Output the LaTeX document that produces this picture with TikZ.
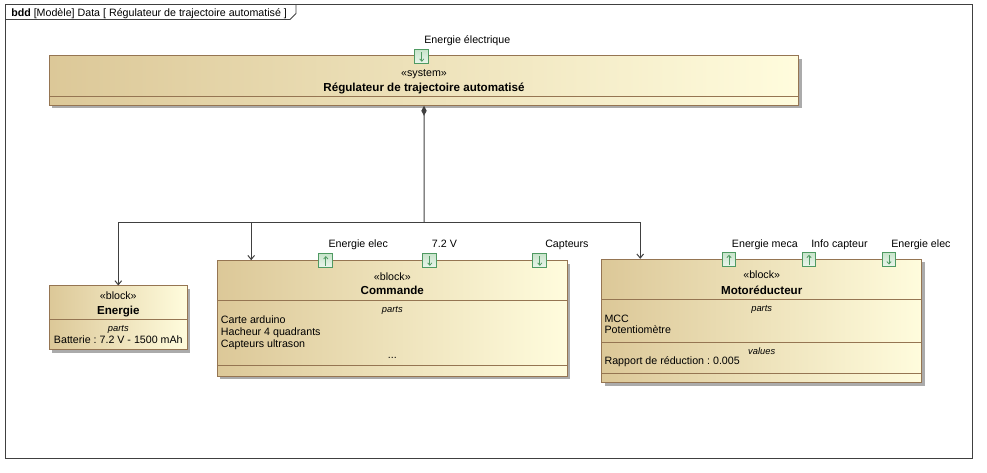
\documentclass[tikz,border=0pt]{standalone}
\usepackage{fontspec}
\setmainfont{Liberation Sans}
\usepackage{tikz}
\usetikzlibrary{%
  arrows.meta,%
  shadows,%
  fit,% block outlines
  calc,%
  positioning%
}
\frenchspacing

\definecolor{blockleft}{HTML}{DCC898}
\definecolor{blockright}{HTML}{FFFCDD}
\definecolor{blockborder}{HTML}{957552}
\definecolor{shadowgray}{HTML}{ABABAB}
\definecolor{lineclr}{HTML}{404040}
\definecolor{portborder}{HTML}{4F9A62}
\definecolor{portfill}{HTML}{C8E4CB}

\tikzset{
  block/.style={draw=blockborder, line width=0.75pt, left color=blockleft, right color=blockright,
    inner sep=0pt, drop shadow={shadow xshift=2.25pt, shadow yshift=-2.25pt, fill=shadowgray, opacity=1}},
  compart/.style={draw=blockborder, line width=0.75pt},
  port/.style={draw=portborder, line width=0.75pt, inner sep=0pt, minimum size=10.4pt,
    top color=portfill, bottom color=portfill!35},
  portarrow/.style={draw=portborder, line width=0.6pt, -{Straight Barb[length=1.8pt,width=3.2pt]}},
  assoc/.style={draw=lineclr, line width=0.75pt, -{Straight Barb[length=3pt,width=5pt]}},
  compo/.style={draw=lineclr, line width=0.75pt, {Diamond[length=7.5pt,width=4pt]}-},
  txt/.style={inner sep=0pt, text height=5.8pt, text depth=0pt},
  stereo/.style={txt},
  bname/.style={txt, font=\fontsize{8.7}{10}\selectfont\bfseries},
  comptitle/.style={txt, text height=5pt, font=\fontsize{7}{8}\selectfont\itshape},
  item/.style={txt, anchor=west},
  portlabel/.style={txt, anchor=west}
}

\begin{document}
\begin{tikzpicture}
  [x=0.75pt, y=-0.75pt, font=\fontsize{8}{9.6}\selectfont, text=black]

\useasboundingbox (0,0) rectangle (987,473);

% frame
\draw[draw=lineclr, line width=0.75pt] (5,5) rectangle (972.3,458.3);
\draw[draw=lineclr, line width=0.6pt] (5,19.5) -- (290,19.5) -- (296,13.5) -- (296,5);
\node[item] (title) at (11,12.3) {\textbf{bdd} [Modèle] Data [ Régulateur de trajectoire automatisé ]};

% system
\node[block, fit={(49.3,56) (798.7,105.3)}] (sys) {};
\draw[compart] (sys.west |- 0,96.3) -- (sys.east |- 0,96.3);
\node[stereo] (sysst) at (424,72.3) {«system»};
\node[bname] (sysnm) at (424,87.7) {Régulateur de trajectoire automatisé};
\node[port] (p0) at (421.8,56.8) {};
\draw[portarrow] ([yshift=-2pt]p0.north) -- ([yshift=1.8pt]p0.south);
\node[portlabel] (l0) at (424,40) {Energie électrique};

% Energie
\node[block, fit={(49.3,286) (187.3,350)}] (en) {};
\draw[compart] (en.west |- 0,319.3) -- (en.east |- 0,319.3);
\node[stereo] (enst) at (118.3,295.3) {«block»};
\node[bname] (ennm) at (118.3,310.7) {Energie};
\node[comptitle] (enpt) at (118.3,328.3) {parts};
\node[stereo] (en1) at (118.3,339.3) {Batterie : 7.2 V - 1500 mAh};

% Commande
\node[block, fit={(217.3,260.7) (567.3,376)}] (cmd) {};
\draw[compart] (cmd.west |- 0,300.7) -- (cmd.east |- 0,300.7);
\draw[compart] (cmd.west |- 0,365.3) -- (cmd.east |- 0,365.3);
\node[stereo] (cmdst) at (392.3,276.7) {«block»};
\node[bname] (cmdnm) at (392.3,291) {Commande};
\node[comptitle] (cmdpt) at (392.3,309.3) {parts};
\node[item] (cmd1) at (220.7,319.3) {Carte arduino};
\node[item] (cmd2) at (220.7,331.3) {Hacheur 4 quadrants};
\node[item] (cmd3) at (220.7,343.3) {Capteurs ultrason};
\node[stereo] (cmd4) at (392.3,355) {...};

\node[port] (p1) at (325.8,260.8) {};
\draw[portarrow] ([yshift=1.8pt]p1.south) -- ([yshift=-2pt]p1.north);
\node[portlabel] (l1) at (328.3,243.3) {Energie elec};
\node[port] (p2) at (429.8,260.8) {};
\draw[portarrow] ([yshift=-2pt]p2.north) -- ([yshift=1.8pt]p2.south);
\node[portlabel] (l2) at (431.7,243.3) {7.2 V};
\node[port] (p3) at (539.8,260.8) {};
\draw[portarrow] ([yshift=-2pt]p3.north) -- ([yshift=1.8pt]p3.south);
\node[portlabel] (l3) at (545,243.3) {Capteurs};

% Motoreducteur
\node[block, fit={(601.7,259.3) (921.7,382.7)}] (mot) {};
\draw[compart] (mot.west |- 0,299.3) -- (mot.east |- 0,299.3);
\draw[compart] (mot.west |- 0,342.3) -- (mot.east |- 0,342.3);
\draw[compart] (mot.west |- 0,373.3) -- (mot.east |- 0,373.3);
\node[stereo] (motst) at (761.7,275) {«block»};
\node[bname] (motnm) at (761.7,290.7) {Motoréducteur};
\node[comptitle] (motpt) at (761.7,308.3) {parts};
\node[item] (mot1) at (604.3,318.3) {MCC};
\node[item] (mot2) at (604.3,330) {Potentiomètre};
\node[comptitle] (motvl) at (761.7,350.7) {values};
\node[item] (mot3) at (604.3,360.7) {Rapport de réduction : 0.005};

\node[port] (p4) at (729,259.5) {};
\draw[portarrow] ([yshift=1.8pt]p4.south) -- ([yshift=-2pt]p4.north);
\node[portlabel] (l4) at (731.7,243.3) {Energie meca};
\node[port] (p5) at (809,259.5) {};
\draw[portarrow] ([yshift=1.8pt]p5.south) -- ([yshift=-2pt]p5.north);
\node[portlabel] (l5) at (811,243.3) {Info capteur};
\node[port] (p6) at (889,259.5) {};
\draw[portarrow] ([yshift=-2pt]p6.north) -- ([yshift=1.8pt]p6.south);
\node[portlabel] (l6) at (891,243.3) {Energie elec};

% composition
\coordinate (jct) at (424,222.7);
\draw[compo] (sys.south) -- (jct);
\draw[assoc] (jct) -| (en.north);
\draw[assoc] (jct) -| ($(cmd.north west)+(34.4,0)$);
\draw[assoc] (jct) -| ($(mot.north west)+(39,0)$);
\end{tikzpicture}
\end{document}
